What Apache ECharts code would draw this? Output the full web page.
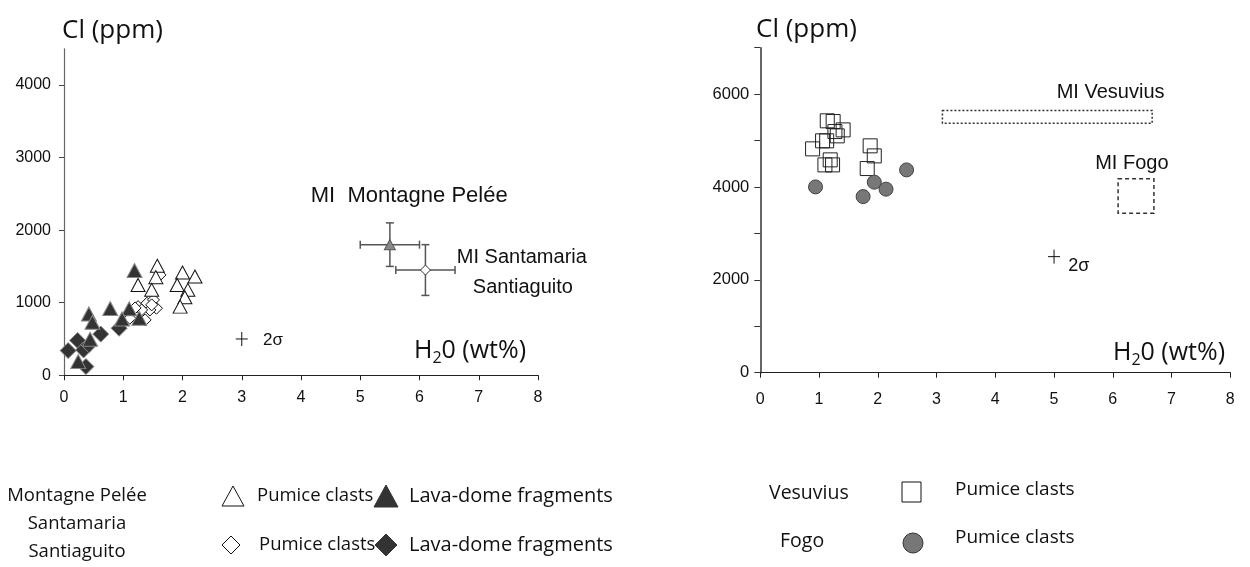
<!DOCTYPE html>
<html>
<head>
<meta charset="utf-8">
<script src="https://cdn.jsdelivr.net/npm/echarts@6/dist/echarts.min.js"></script>
<style>
  html, body { margin: 0; padding: 0; background: #fff; }
  #chart { width: 1250px; height: 567px; }
</style>
</head>
<body>
<div id="chart"></div>
<script>
// ---- Left panel: Montagne Pelée / Santamaria-Santiaguito (H2O wt% vs Cl ppm)
const peleePumice = [[1.575,1508],[1.55,1352],[1.25,1245],[1.48,1177],[2.0,1415],[2.21,1360],[1.91,1245],[2.09,1177],[2.04,1075],[1.96,946]];
const peleeLavaDome = [[1.19,1443],[0.78,920],[0.42,845],[0.48,730],[1.10,915],[1.27,786],[0.98,776],[0.44,496],[0.24,188]];
const santamariaPumice = [[1.25,946],[1.40,993],[1.51,1039],[1.56,924],[1.45,900],[1.37,763],[1.11,786],[1.62,1383],[1.31,900],[1.48,970],[1.20,928]];
const santiaguitoLavaDome = [[0.07,340],[0.23,480],[0.33,349],[0.37,119],[0.62,567],[0.93,648],[0.42,420]];
// melt inclusions: [x, y, xErr, yErr]
const miPelee = [5.5, 1800, 0.5, 300];
const miSantamaria = [6.1, 1450, 0.5, 350];
const sigmaLeft = [3, 500];

// ---- Right panel: Vesuvius / Fogo
const vesuviusPumice = [[1.14,5425],[1.24,5410],[1.41,5230],[1.27,5194],[1.31,5101],[1.06,4994],[1.13,4994],[0.89,4821],[1.87,4886],[1.94,4670],[1.82,4397],[1.19,4584],[1.10,4476],[1.23,4476]];
const fogoPumice = [[0.94,4002],[1.75,3793],[1.94,4104],[2.14,3953],[2.49,4368]];
// melt inclusion fields: [xMin, xMax, yMin, yMax]
const miVesuvius = [3.1, 6.67, 5375, 5650];
const miFogo = [6.09, 6.70, 3435, 4175];
const sigmaRight = [5, 2500];

// ---- Axis ticks
const xTicks = [0, 1, 2, 3, 4, 5, 6, 7, 8];
const leftYTicks = [0, 1000, 2000, 3000, 4000];
const rightYTicks = [0, 1000, 2000, 3000, 4000, 5000, 6000, 7000];
const rightYLabels = [0, 2000, 4000, 6000];

// ---- In-plot annotations: [text, x, y, fontSize]
const leftNotes = [["MI  Montagne Pelée", 4.165, 2473, 22], ["MI Santamaria", 6.63, 1628, 20], ["Santiaguito", 6.90, 1204, 20], ["2σ", 3.36, 487, 17]];
const rightNotes = [["MI Vesuvius", 5.045, 6034, 20], ["MI Fogo", 5.70, 4513, 20], ["2σ", 5.24, 2290, 18]];

const LABEL_FONT = 'Liberation Sans, Arial, sans-serif';
const TEXT_FONT = 'Open Sans, sans-serif';
const plain = v => String(v);

function xAxisCfg(gridIndex, margin) {
  return {
    gridIndex, type: 'value', min: 0, max: 8, interval: 1,
    axisLine: { onZero: false, lineStyle: { color: '#222', width: 1.2 } },
    axisTick: { show: true, length: 5, lineStyle: { color: '#222' } },
    axisLabel: { margin, color: '#111', fontSize: 16, fontFamily: LABEL_FONT, customValues: xTicks, formatter: plain },
    splitLine: { show: false }
  };
}

function crossRender(params, api) {
  const c = api.coord([api.value(0), api.value(1)]);
  return {
    type: 'group',
    children: [
      { type: 'line', shape: { x1: c[0] - 6, y1: c[1], x2: c[0] + 6, y2: c[1] }, style: { stroke: '#111', lineWidth: 1 } },
      { type: 'line', shape: { x1: c[0], y1: c[1] - 7, x2: c[0], y2: c[1] + 7 }, style: { stroke: '#111', lineWidth: 1 } }
    ]
  };
}

function errorRender(params, api) {
  const x = api.value(0), y = api.value(1), dx = api.value(2), dy = api.value(3);
  const l = api.coord([x - dx, y]), r = api.coord([x + dx, y]);
  const t = api.coord([x, y + dy]), b = api.coord([x, y - dy]);
  const st = { stroke: '#555', lineWidth: 1.5 };
  const cap = 4;
  return {
    type: 'group',
    children: [
      { type: 'line', shape: { x1: l[0], y1: l[1], x2: r[0], y2: r[1] }, style: st },
      { type: 'line', shape: { x1: t[0], y1: t[1], x2: b[0], y2: b[1] }, style: st },
      { type: 'line', shape: { x1: l[0], y1: l[1] - cap, x2: l[0], y2: l[1] + cap }, style: st },
      { type: 'line', shape: { x1: r[0], y1: r[1] - cap, x2: r[0], y2: r[1] + cap }, style: st },
      { type: 'line', shape: { x1: t[0] - cap, y1: t[1], x2: t[0] + cap, y2: t[1] }, style: st },
      { type: 'line', shape: { x1: b[0] - cap, y1: b[1], x2: b[0] + cap, y2: b[1] }, style: st }
    ]
  };
}

function boxRender(dash) {
  return function (params, api) {
    const p0 = api.coord([api.value(0), api.value(3)]);
    const p1 = api.coord([api.value(1), api.value(2)]);
    return {
      type: 'rect',
      shape: { x: p0[0], y: p0[1], width: p1[0] - p0[0], height: p1[1] - p0[1] },
      style: { fill: 'none', stroke: '#333', lineWidth: 1.5, lineDash: dash }
    };
  };
}

function makeNoteSeries(notes, idx) {
  return {
    type: 'custom', xAxisIndex: idx, yAxisIndex: idx, silent: true, z: 5,
    data: notes.map(n => [n[1], n[2]]),
    renderItem: function (params, api) {
      const d = notes[params.dataIndex];
      const c = api.coord([api.value(0), api.value(1)]);
      return {
        type: 'text', x: c[0], y: c[1],
        style: { text: d[0], fill: '#111', font: d[3] + 'px ' + LABEL_FONT, align: 'left', verticalAlign: 'middle' }
      };
    }
  };
}

function scatter(idx, data, symbol, size, fill, stroke, z) {
  return {
    type: 'scatter', xAxisIndex: idx, yAxisIndex: idx, data, symbol, symbolSize: size,
    itemStyle: { color: fill, borderColor: stroke, borderWidth: 1, opacity: 1 }, z: z || 3, silent: true
  };
}

// ---- Legend shapes and headings
const tri = (cx, cy, w, h) => [[cx - w / 2, cy + h / 2], [cx + w / 2, cy + h / 2], [cx, cy - h / 2]];
const dia = (cx, cy, r) => [[cx, cy - r], [cx + r, cy], [cx, cy + r], [cx - r, cy]];
const txt = (text, x, y, size, align) => ({
  type: 'text', x, y,
  style: { text, fill: '#111', font: size + 'px ' + TEXT_FONT, align: align || 'left', verticalAlign: 'middle' }
});
const h2oLabel = (x, y) => ({
  type: 'text', x, y,
  style: {
    text: '{a|H}{b|2}{a|0 (wt%)}', fill: '#111', align: 'left', verticalAlign: 'middle',
    rich: {
      a: { fontSize: 25, fontFamily: TEXT_FONT, lineHeight: 30, fill: '#111' },
      b: { fontSize: 16, fontFamily: TEXT_FONT, lineHeight: 22, verticalAlign: 'bottom', fill: '#111' }
    }
  }
});

const graphics = [
  txt('Cl (ppm)', 62, 31, 26),
  txt('Cl (ppm)', 756, 30, 26),
  h2oLabel(414, 351),
  h2oLabel(1113, 353),
  // left legend
  txt('Montagne Pelée', 77, 496, 18.5, 'center'),
  txt('Santamaria', 77, 524, 18.5, 'center'),
  txt('Santiaguito', 77, 552, 18.5, 'center'),
  { type: 'polygon', shape: { points: tri(233, 496, 22, 20) }, style: { fill: '#fff', stroke: '#111', lineWidth: 1 } },
  txt('Pumice clasts', 257, 496, 18.5),
  { type: 'polygon', shape: { points: tri(386, 496, 24, 22) }, style: { fill: '#333', stroke: '#333', lineWidth: 1 } },
  txt('Lava-dome fragments', 409, 496, 20),
  { type: 'polygon', shape: { points: dia(231, 545, 9) }, style: { fill: '#fff', stroke: '#111', lineWidth: 1 } },
  txt('Pumice clasts', 259, 545, 18.5),
  { type: 'polygon', shape: { points: dia(386, 545, 11) }, style: { fill: '#333', stroke: '#333', lineWidth: 1 } },
  txt('Lava-dome fragments', 409, 545, 20),
  // right legend
  txt('Vesuvius', 769, 493, 19.5),
  { type: 'rect', shape: { x: 902, y: 482, width: 19, height: 20 }, style: { fill: '#fff', stroke: '#111', lineWidth: 1 } },
  txt('Pumice clasts', 955, 490, 19),
  txt('Fogo', 780, 541, 19.5),
  { type: 'circle', shape: { cx: 913, cy: 543, r: 10 }, style: { fill: '#777', stroke: '#333', lineWidth: 1 } },
  txt('Pumice clasts', 955, 538, 19)
];

const option = {
  animation: false,
  backgroundColor: '#fff',
  grid: [
    { left: 64, top: 48.75, width: 474, height: 326.5 },
    { left: 760.3, top: 47.7, width: 470, height: 325 }
  ],
  xAxis: [xAxisCfg(0, 14), xAxisCfg(1, 19)],
  yAxis: [
    {
      gridIndex: 0, type: 'value', min: 0, max: 4500, interval: 500,
      axisLine: { show: true, lineStyle: { color: '#666', width: 1.2 } },
      axisTick: { show: true, length: 5, customValues: leftYTicks, lineStyle: { color: '#444' } },
      axisLabel: { margin: 13, color: '#111', fontSize: 16, fontFamily: LABEL_FONT, customValues: leftYTicks, formatter: plain },
      splitLine: { show: false }
    },
    {
      gridIndex: 1, type: 'value', min: 0, max: 7000, interval: 1000,
      axisLine: { show: true, lineStyle: { color: '#333', width: 1.5 } },
      axisTick: { show: true, length: 6, customValues: rightYTicks, lineStyle: { color: '#333' } },
      axisLabel: { margin: 11, color: '#111', fontSize: 16.5, fontFamily: LABEL_FONT, customValues: rightYLabels, formatter: plain },
      splitLine: { show: false }
    }
  ],
  series: [
    scatter(0, santamariaPumice, 'diamond', 12, '#fff', '#111', 3),
    scatter(0, peleePumice, 'triangle', [14, 13], '#fff', '#111', 3),
    scatter(0, santiaguitoLavaDome, 'diamond', 16, '#333', '#888', 4),
    scatter(0, peleeLavaDome, 'triangle', [15, 14], '#333', '#888', 4),
    { type: 'custom', xAxisIndex: 0, yAxisIndex: 0, silent: true, data: [miPelee, miSantamaria], renderItem: errorRender, z: 2 },
    scatter(0, [miPelee.slice(0, 2)], 'triangle', [11, 10], '#888', '#555', 6),
    scatter(0, [miSantamaria.slice(0, 2)], 'diamond', 10, '#fff', '#333', 6),
    { type: 'custom', xAxisIndex: 0, yAxisIndex: 0, silent: true, data: [sigmaLeft], renderItem: crossRender },
    makeNoteSeries(leftNotes, 0),

    scatter(1, vesuviusPumice, 'rect', 14, 'rgba(255,255,255,0)', '#222', 3),
    scatter(1, fogoPumice, 'circle', 14, '#777', '#444', 4),
    { type: 'custom', xAxisIndex: 1, yAxisIndex: 1, silent: true, data: [miVesuvius], renderItem: boxRender([2, 2]) },
    { type: 'custom', xAxisIndex: 1, yAxisIndex: 1, silent: true, data: [miFogo], renderItem: boxRender([4, 3]) },
    { type: 'custom', xAxisIndex: 1, yAxisIndex: 1, silent: true, data: [sigmaRight], renderItem: crossRender },
    makeNoteSeries(rightNotes, 1)
  ],
  graphic: graphics
};

const chart = echarts.init(document.getElementById('chart'), null, { renderer: 'canvas' });
chart.setOption(option);
</script>
</body>
</html>
